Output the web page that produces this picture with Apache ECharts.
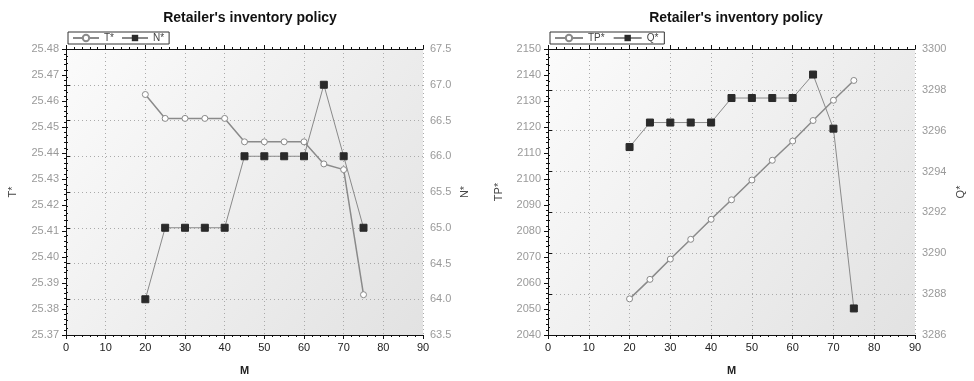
<!DOCTYPE html>
<html><head><meta charset="utf-8">
<script src="https://cdn.jsdelivr.net/npm/echarts@6/dist/echarts.min.js"></script>
<style>html,body{margin:0;padding:0;background:#fff}#c{width:974px;height:381px}</style>
</head><body><div id="c"></div>
<script>
const M = [20,25,30,35,40,45,50,55,60,65,70,75];
const Tstar = [25.4625,25.4533,25.4533,25.4533,25.4533,25.4443,25.4443,25.4443,25.4443,25.4358,25.4336,25.3855];
const Nstar = [64.0,65.0,65.0,65.0,65.0,66.0,66.0,66.0,66.0,67.0,66.0,65.0];
const TPstar = [2053.9,2061.4,2069.2,2076.8,2084.5,2092.0,2099.6,2107.2,2114.6,2122.5,2130.3,2137.9];
const Qstar = [3295.2,3296.4,3296.4,3296.4,3296.4,3297.6,3297.6,3297.6,3297.6,3298.75,3296.1,3287.3];
const xTicks = {min:0,max:90,interval:10};
const leftT = {min:25.37,max:25.48,interval:0.01};
const rightN = {min:63.5,max:67.5,interval:0.5};
const leftTP = {min:2040,max:2150,interval:10};
const rightQ = {min:3286,max:3300,interval:2};

const chart = echarts.init(document.getElementById('c'));
const grad = new echarts.graphic.LinearGradient(0,0,1,1,[{offset:0,color:'#fbfbfb'},{offset:1,color:'#e2e2e2'}]);
const axisLineS = {show:true,lineStyle:{color:'#111',width:1}};
const dotted = {show:true,lineStyle:{color:'#aaa',type:[1,3],width:1}};
function xAx(gi, showLab){
  return {type:'value',gridIndex:gi,min:xTicks.min,max:xTicks.max,interval:xTicks.interval,
    axisLine:axisLineS,axisTick:{show:true,length:4,lineStyle:{color:'#111'}},
    minorTick:{show:true,splitNumber:5,length:2,lineStyle:{color:'#111'}},
    axisLabel:{show:showLab,color:'#222',fontSize:11,fontFamily:'Liberation Sans',margin:7},
    splitLine:showLab?dotted:{show:false},
    name:showLab?'M':'',nameLocation:'middle',nameGap:30,
    nameTextStyle:{color:'#222',fontWeight:'bold',fontSize:11,fontFamily:'Liberation Sans'},
    position:showLab?'bottom':'top'};
}
function yAx(gi, r, pos, name, dec, split, gap){
  return {type:'value',gridIndex:gi,min:r.min,max:r.max,interval:r.interval,position:pos,
    axisLine:axisLineS,axisTick:{show:true,length:4,lineStyle:{color:'#111'}},
    minorTick:{show:true,splitNumber:5,length:2,lineStyle:{color:'#111'}},
    axisLabel:{color:'#9a9a9a',fontSize:11,fontFamily:'Liberation Sans',margin:7,
      formatter:v=>v.toFixed(dec)},
    splitLine:split?dotted:{show:false},
    name:name,nameLocation:'middle',nameGap:gap,nameRotate:90,
    nameTextStyle:{color:'#444',fontSize:11,fontFamily:'Liberation Sans'}};
}
const circ = {symbol:'circle',symbolSize:6,itemStyle:{color:'#fff',borderColor:'#8a8a8a',borderWidth:1},lineStyle:{color:'#8a8a8a',width:1.5}};
const sq = {symbol:'rect',symbolSize:7,itemStyle:{color:'#2a2a2a',borderColor:'#2a2a2a'},lineStyle:{color:'#8a8a8a',width:1}};
const pair = (xs,ys)=>xs.map((x,i)=>[x,ys[i]]);
chart.setOption({
  animation:false,
  title:[
    {text:"Retailer's inventory policy",left:245,top:6,textAlign:'center',textStyle:{fontSize:14,fontWeight:'bold',color:'#111',fontFamily:'Liberation Sans'}},
    {text:"Retailer's inventory policy",left:731,top:6,textAlign:'center',textStyle:{fontSize:14,fontWeight:'bold',color:'#111',fontFamily:'Liberation Sans'}}
  ],
  legend:[
    {data:['T*','N*'],left:68,top:32,orient:'horizontal',itemWidth:26,itemHeight:8,itemGap:7,padding:[1,5,1,4],
     borderColor:'#333',borderWidth:1,backgroundColor:'#fff',textStyle:{fontSize:10,color:'#444',fontFamily:'Liberation Sans'}},
    {data:['TP*','Q*'],left:550,top:32,orient:'horizontal',itemWidth:28,itemHeight:8,itemGap:8,padding:[1,6,1,4],
     borderColor:'#333',borderWidth:1,backgroundColor:'#fff',textStyle:{fontSize:10,color:'#444',fontFamily:'Liberation Sans'}}
  ],
  grid:[
    {left:66,top:49,width:357,height:289,show:true,backgroundColor:grad,borderWidth:0},
    {left:548,top:49,width:367,height:289,show:true,backgroundColor:grad,borderWidth:0}
  ],
  xAxis:[xAx(0,true),xAx(0,false),xAx(1,true),xAx(1,false)],
  yAxis:[
    yAx(0,leftT,'left','T*',2,false,48),
    yAx(0,rightN,'right','N*',1,true,36),
    yAx(1,leftTP,'left','TP*',0,false,44),
    yAx(1,rightQ,'right','Q*',0,true,40)
  ],
  series:[
    Object.assign({name:'T*',type:'line',xAxisIndex:0,yAxisIndex:0,data:pair(M,Tstar),z:3},circ),
    Object.assign({name:'N*',type:'line',xAxisIndex:0,yAxisIndex:1,data:pair(M,Nstar),z:4},sq),
    Object.assign({name:'TP*',type:'line',xAxisIndex:2,yAxisIndex:2,data:pair(M,TPstar),z:3},circ),
    Object.assign({name:'Q*',type:'line',xAxisIndex:2,yAxisIndex:3,data:pair(M,Qstar),z:4},sq)
  ]
});
</script></body></html>
